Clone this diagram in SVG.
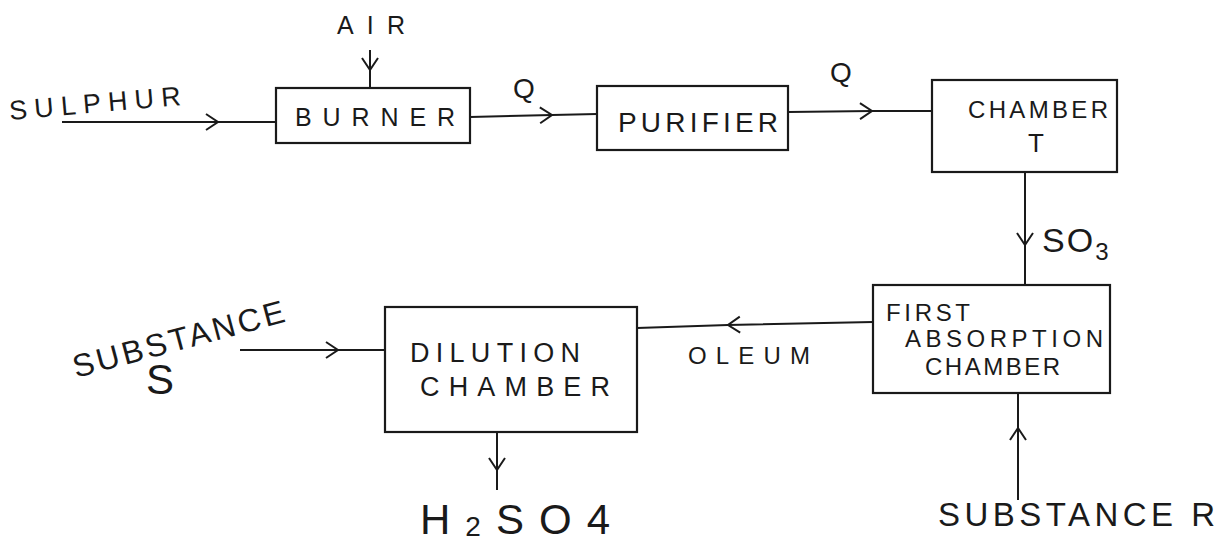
<svg xmlns="http://www.w3.org/2000/svg" width="1222" height="542" viewBox="0 0 1222 542">
<style>
.box{fill:none;stroke:#1a1a1a;stroke-width:2.2}
.ln{fill:none;stroke:#1a1a1a;stroke-width:2;marker-mid:url(#chev)}
text{font-family:"Liberation Sans",Arial,sans-serif;fill:#1a1a1a}
</style>
<defs>
<marker id="chev" viewBox="0 0 20 20" refX="14" refY="10" markerWidth="20" markerHeight="20" markerUnits="userSpaceOnUse" orient="auto">
<path d="M2,2 L14,10 L2,18" fill="none" stroke="#1a1a1a" stroke-width="2"/>
</marker>
</defs>
<rect width="1222" height="542" fill="#fff"/>
<g id="connectors">
<polyline class="ln" points="62,122 218,122 276,122"/>
<polyline class="ln" points="370,50 370,70 370,88"/>
<polyline class="ln" points="470,117 552,115 597,114"/>
<polyline class="ln" points="788,112 872,111 932,111"/>
<polyline class="ln" points="1025,172 1025,245 1025,285"/>
<polyline class="ln" points="873,322 728,325 637,328"/>
<polyline class="ln" points="240,350 338,350 385,350"/>
<polyline class="ln" points="497,432 497,470 497,490"/>
<polyline class="ln" points="1018,500 1018,428 1018,393"/>
</g>
<g id="sulphur"><text x="10" y="120" transform="rotate(-5 10 120)" style="font-size:27px" textLength="172" lengthAdjust="spacing">SULPHUR</text></g>
<g id="air"><text x="337" y="34" style="font-size:25px" textLength="68" lengthAdjust="spacing">AIR</text></g>
<g id="burner"><rect class="box" x="276" y="88" width="194" height="55"/><text x="295" y="126" style="font-size:25px" textLength="160" lengthAdjust="spacing">BURNER</text></g>
<g id="q1"><text x="513" y="98" style="font-size:28px">Q</text></g>
<g id="purifier"><rect class="box" x="597" y="86" width="191" height="64"/><text x="618" y="132" style="font-size:28px" textLength="160" lengthAdjust="spacing">PURIFIER</text></g>
<g id="q2"><text x="830" y="82" style="font-size:28px">Q</text></g>
<g id="chamberT"><rect class="box" x="932" y="80" width="185" height="92"/><text x="968" y="118" style="font-size:24px" textLength="140" lengthAdjust="spacing">CHAMBER</text><text x="1028" y="152" style="font-size:26px">T</text></g>
<g id="so3"><text x="1042" y="252" style="font-size:34px;letter-spacing:2px">SO<tspan style="font-size:24px" dy="8">3</tspan></text></g>
<g id="absorption"><rect class="box" x="873" y="285" width="237" height="108"/><text x="886" y="321" style="font-size:24px" textLength="84" lengthAdjust="spacing">FIRST</text><text x="905" y="347" style="font-size:24px" textLength="198" lengthAdjust="spacing">ABSORPTION</text><text x="925" y="375" style="font-size:24px" textLength="135" lengthAdjust="spacing">CHAMBER</text></g>
<g id="oleum"><text x="688" y="364" style="font-size:24px" textLength="122" lengthAdjust="spacing">OLEUM</text></g>
<g id="dilution"><rect class="box" x="385" y="307" width="252" height="125"/><text x="410" y="362" style="font-size:27px" textLength="170" lengthAdjust="spacing">DILUTION</text><text x="420" y="396" style="font-size:27px" textLength="190" lengthAdjust="spacing">CHAMBER</text></g>
<g id="substanceS"><text x="76" y="378" transform="rotate(-15 76 378)" style="font-size:32px" textLength="218" lengthAdjust="spacing">SUBSTANCE</text><text x="146" y="394" style="font-size:42px">S</text></g>
<g id="h2so4"><text x="420" y="534" style="font-size:42px" textLength="190" lengthAdjust="spacing">H<tspan style="font-size:28px" dy="2">2</tspan><tspan dy="-2">SO4</tspan></text></g>
<g id="substanceR"><text x="938" y="526" style="font-size:33px" textLength="277" lengthAdjust="spacing">SUBSTANCE R</text></g>
</svg>
